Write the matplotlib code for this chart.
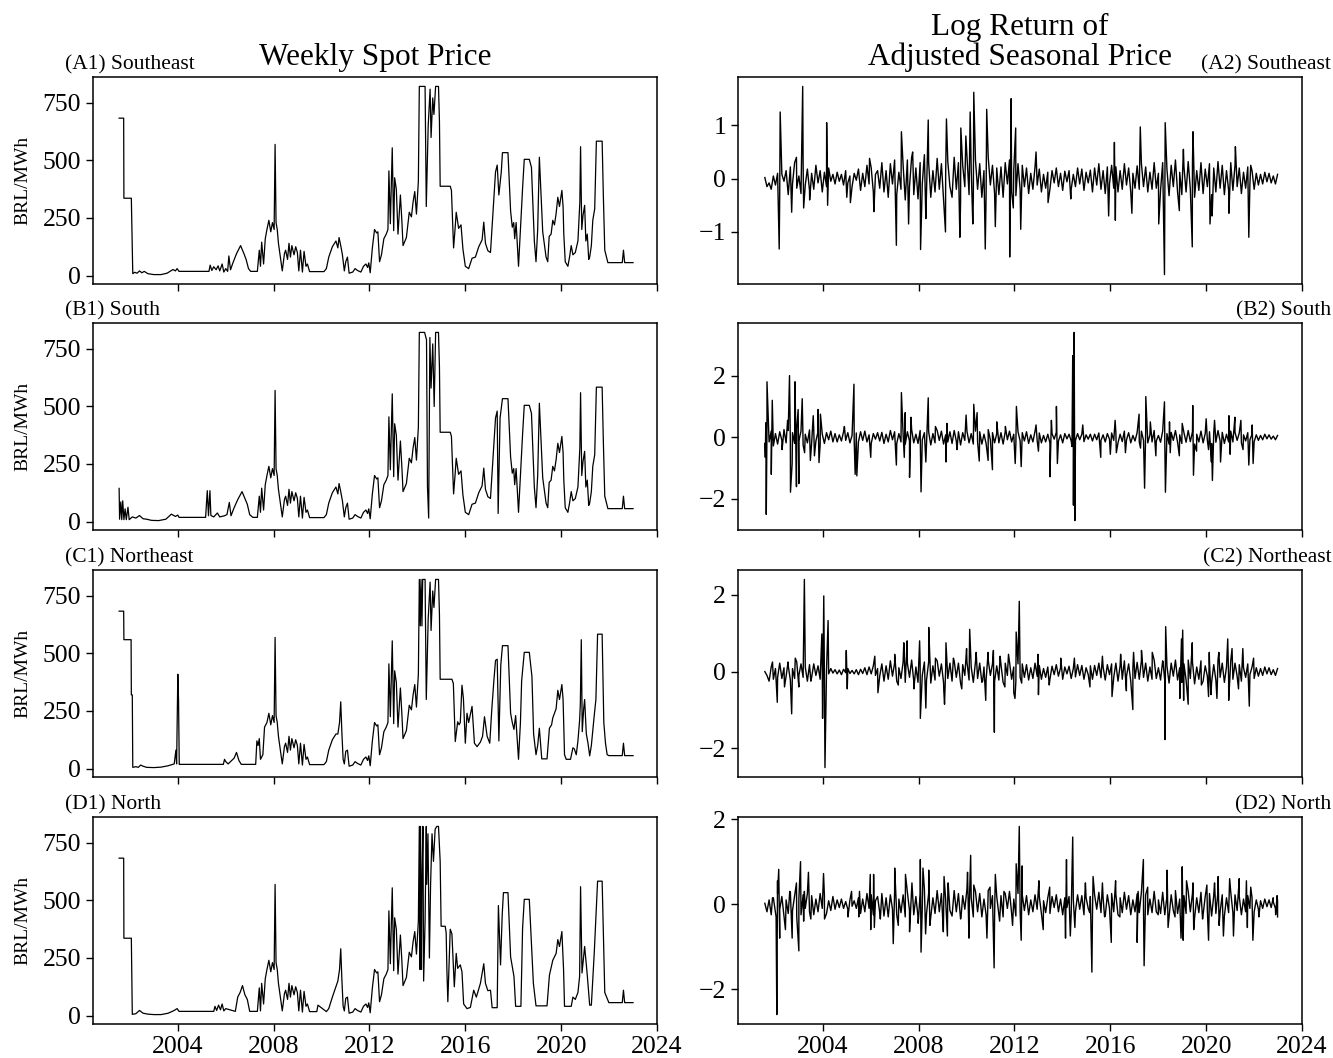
import numpy as np
import matplotlib.pyplot as plt

plt.rcParams['font.family'] = ['Liberation Serif', 'DejaVu Serif']

regions = ['Southeast', 'South', 'Northeast', 'North']
letters = ['A', 'B', 'C', 'D']
year_ticks = [2004, 2008, 2012, 2016, 2020, 2024]

# ---- weekly spot price, vertices (decimal year, BRL/MWh) ----
se_year = [2001.55, 2001.74, 2001.75, 2002.06, 2002.12, 2002.2, 2002.3, 2002.4, 2002.5, 2002.6, 2002.75, 2003.0, 2003.3, 2003.55, 2003.8, 2003.9, 2003.97, 2004.05,
           2005.3, 2005.35, 2005.42, 2005.5, 2005.6, 2005.68, 2005.75, 2005.85, 2005.92, 2006.0, 2006.08, 2006.13, 2006.2, 2006.3, 2006.45, 2006.62, 2006.7, 2006.76, 2006.85, 2006.95,
           2007.04, 2007.32, 2007.4, 2007.45, 2007.5, 2007.58, 2007.65, 2007.72, 2007.8, 2007.88, 2007.95, 2008.02, 2008.06, 2008.1, 2008.15, 2008.2, 2008.28, 2008.36, 2008.45, 2008.5,
           2008.58, 2008.64, 2008.7, 2008.76, 2008.85, 2008.92, 2008.99, 2009.05, 2009.12, 2009.2, 2009.27, 2009.35, 2009.41, 2009.5, 2010.1, 2010.2, 2010.3, 2010.45, 2010.6, 2010.68,
           2010.73, 2010.8, 2010.87, 2010.95, 2011.01, 2011.08, 2011.15, 2011.3, 2011.4, 2011.5, 2011.64, 2011.75, 2011.85, 2011.92, 2011.97, 2012.03,
           2012.12, 2012.21, 2012.3, 2012.35, 2012.42, 2012.5, 2012.6, 2012.7, 2012.77, 2012.81, 2012.87, 2012.95, 2013.01, 2013.05, 2013.12, 2013.19, 2013.29, 2013.35, 2013.4,
           2013.54, 2013.66, 2013.75, 2013.82, 2013.89, 2013.96, 2014.04, 2014.08, 2014.32, 2014.37, 2014.45, 2014.53, 2014.57, 2014.64, 2014.69, 2014.76, 2014.88, 2014.92, 2014.95,
           2015.37, 2015.42, 2015.51, 2015.57, 2015.62, 2015.72, 2015.82, 2015.9, 2016.0, 2016.14, 2016.28, 2016.42, 2016.56, 2016.7, 2016.77, 2016.84, 2016.94, 2017.05, 2017.16,
           2017.26, 2017.33, 2017.4, 2017.5, 2017.55, 2017.78, 2017.89, 2017.96, 2018.02, 2018.06, 2018.12, 2018.22, 2018.3, 2018.39, 2018.46, 2018.67, 2018.76, 2018.88, 2018.95,
           2019.02, 2019.09, 2019.23, 2019.3, 2019.37, 2019.44, 2019.5, 2019.58, 2019.65, 2019.72, 2019.79, 2019.86, 2019.93, 2020.03, 2020.08, 2020.11, 2020.17, 2020.28, 2020.35,
           2020.42, 2020.49, 2020.59, 2020.7, 2020.78, 2020.81, 2020.86, 2020.91, 2020.98, 2021.03, 2021.09, 2021.15, 2021.19, 2021.26, 2021.32, 2021.4, 2021.47, 2021.71, 2021.76,
           2021.82, 2021.89, 2021.95, 2022.55, 2022.6, 2022.65, 2023.0]
se_price = [684, 684, 336, 336, 8, 14, 10, 20, 12, 18, 8, 4, 4, 10, 26, 20, 30, 18,
            18, 45, 22, 38, 25, 42, 20, 50, 15, 30, 18, 85, 25, 55, 95, 130, 110, 95, 70, 30,
            18, 18, 110, 40, 145, 50, 160, 200, 240, 190, 230, 200, 570, 230, 200, 140, 80, 20, 95, 110,
            70, 140, 80, 130, 90, 125, 100, 20, 110, 15, 105, 40, 50, 17, 17, 30, 80, 125, 150, 120,
            165, 130, 90, 20, 60, 80, 10, 15, 30, 22, 15, 40, 50, 35, 55, 12,
            120, 200, 185, 190, 60, 90, 160, 180, 200, 455, 225, 555, 195, 425, 375, 180, 350, 240, 130,
            165, 275, 255, 320, 365, 267, 410, 822, 822, 300, 650, 810, 600, 772, 700, 822, 822, 670, 388,
            388, 370, 120, 200, 275, 205, 220, 115, 40, 30, 75, 80, 125, 155, 232, 140, 108, 100, 280,
            450, 480, 350, 450, 534, 534, 280, 210, 230, 160, 230, 40, 200, 380, 505, 505, 470, 150, 60,
            200, 514, 190, 135, 80, 60, 170, 180, 240, 220, 270, 340, 300, 370, 300, 180, 60, 40, 80,
            130, 90, 100, 150, 320, 560, 200, 260, 305, 150, 180, 70, 80, 130, 240, 290, 584, 584, 350,
            110, 80, 56, 56, 110, 56, 56]

s_year = [2001.55, 2001.57, 2001.62, 2001.66, 2001.7, 2001.75, 2001.8, 2001.85, 2001.92, 2001.97, 2002.1, 2002.25, 2002.4, 2002.55, 2002.7, 2002.9, 2003.2, 2003.5, 2003.73, 2003.9, 2004.0, 2004.05,
          2005.16, 2005.23, 2005.28, 2005.34, 2005.38, 2005.5, 2005.65, 2005.75, 2005.95, 2006.05, 2006.15, 2006.22, 2006.35, 2006.5, 2006.68, 2006.8, 2006.9, 2007.0, 2007.13, 2007.32,
          2007.4, 2007.45, 2007.5, 2007.58, 2007.65, 2007.72, 2007.8, 2007.88, 2007.95, 2008.02, 2008.06, 2008.1, 2008.15, 2008.2, 2008.28, 2008.36, 2008.45, 2008.5,
          2008.58, 2008.64, 2008.7, 2008.76, 2008.85, 2008.92, 2008.99, 2009.05, 2009.12, 2009.2, 2009.27, 2009.35, 2009.41, 2009.5, 2010.1, 2010.2, 2010.3, 2010.45, 2010.6, 2010.68,
          2010.73, 2010.8, 2010.87, 2010.95, 2011.01, 2011.08, 2011.15, 2011.3, 2011.4, 2011.5, 2011.64, 2011.75, 2011.85, 2011.92, 2011.97, 2012.03,
          2012.12, 2012.21, 2012.3, 2012.35, 2012.42, 2012.5, 2012.6, 2012.7, 2012.77, 2012.81, 2012.87, 2012.95, 2013.01, 2013.05, 2013.12, 2013.19, 2013.29, 2013.35, 2013.4,
          2013.54, 2013.66, 2013.75, 2013.82, 2013.89, 2013.96, 2014.04, 2014.08, 2014.3, 2014.38, 2014.42, 2014.47, 2014.52, 2014.57, 2014.64, 2014.7, 2014.76, 2014.88, 2014.92, 2014.95,
          2015.37, 2015.42, 2015.51, 2015.57, 2015.62, 2015.72, 2015.82, 2015.9, 2016.0, 2016.14, 2016.28, 2016.42, 2016.56, 2016.7, 2016.77, 2016.84, 2016.94, 2017.05, 2017.16,
          2017.26, 2017.33, 2017.37, 2017.45, 2017.55, 2017.78, 2017.89, 2017.96, 2018.02, 2018.06, 2018.12, 2018.22, 2018.3, 2018.39, 2018.46, 2018.67, 2018.76, 2018.88, 2018.95,
          2019.02, 2019.09, 2019.23, 2019.3, 2019.37, 2019.44, 2019.5, 2019.58, 2019.65, 2019.72, 2019.79, 2019.86, 2019.93, 2020.03, 2020.08, 2020.11, 2020.17, 2020.28, 2020.35,
          2020.42, 2020.49, 2020.59, 2020.7, 2020.78, 2020.81, 2020.86, 2020.91, 2020.98, 2021.03, 2021.09, 2021.15, 2021.19, 2021.26, 2021.32, 2021.4, 2021.47, 2021.71, 2021.76,
          2021.82, 2021.89, 2021.95, 2022.55, 2022.6, 2022.65, 2023.0]
s_price = [144, 10, 85, 8, 90, 8, 55, 8, 62, 8, 20, 15, 26, 12, 10, 5, 4, 10, 32, 22, 28, 18,
           18, 134, 25, 134, 26, 20, 37, 20, 25, 30, 83, 25, 60, 95, 130, 100, 75, 30, 18, 18,
           110, 40, 145, 50, 160, 200, 240, 190, 230, 200, 570, 230, 200, 140, 80, 20, 95, 110,
           70, 140, 80, 130, 90, 125, 100, 20, 110, 15, 105, 40, 50, 17, 17, 30, 80, 125, 150, 120,
           165, 130, 90, 20, 60, 80, 10, 15, 30, 22, 15, 40, 50, 35, 55, 12,
           120, 200, 185, 190, 60, 90, 160, 180, 200, 455, 225, 555, 195, 425, 375, 180, 350, 240, 130,
           165, 275, 255, 320, 365, 267, 410, 822, 822, 790, 150, 15, 800, 580, 772, 500, 822, 822, 670, 388,
           388, 370, 120, 200, 275, 205, 220, 115, 40, 30, 75, 80, 125, 155, 232, 140, 108, 100, 280,
           450, 480, 35, 450, 534, 534, 280, 210, 230, 160, 230, 40, 200, 380, 505, 505, 470, 150, 60,
           200, 514, 190, 135, 80, 60, 170, 180, 240, 220, 270, 340, 300, 370, 300, 180, 60, 40, 80,
           130, 90, 100, 150, 320, 560, 200, 260, 305, 150, 180, 70, 80, 130, 240, 290, 584, 584, 350,
           110, 80, 56, 56, 110, 56, 56]

ne_year = [2001.55, 2001.74, 2001.75, 2002.05, 2002.06, 2002.1, 2002.12, 2002.25, 2002.35, 2002.45, 2002.55, 2002.7, 2003.0, 2003.3, 2003.6, 2003.85, 2003.92, 2003.95, 2004.0, 2004.03, 2004.06,
           2005.9, 2005.95, 2006.0, 2006.1, 2006.35, 2006.45, 2006.55, 2006.65, 2007.25, 2007.3, 2007.35, 2007.4, 2007.45, 2007.55, 2007.62,
           2007.72, 2007.8, 2007.88, 2007.95, 2008.02, 2008.06, 2008.1, 2008.15, 2008.2, 2008.28, 2008.36, 2008.45, 2008.5,
           2008.58, 2008.64, 2008.7, 2008.76, 2008.85, 2008.92, 2008.99, 2009.05, 2009.12, 2009.2, 2009.27, 2009.35, 2009.41, 2009.5, 2010.1, 2010.2, 2010.3, 2010.45, 2010.6, 2010.68,
           2010.75, 2010.8, 2010.85, 2010.9, 2010.95, 2011.01, 2011.08, 2011.15, 2011.3, 2011.4, 2011.5, 2011.64, 2011.75, 2011.85, 2011.92, 2011.97, 2012.03,
           2012.12, 2012.21, 2012.3, 2012.35, 2012.42, 2012.5, 2012.6, 2012.7, 2012.77, 2012.81, 2012.87, 2012.95, 2013.01, 2013.05, 2013.12, 2013.19, 2013.29, 2013.35, 2013.4,
           2013.54, 2013.66, 2013.75, 2013.82, 2013.89, 2013.96, 2014.04, 2014.08, 2014.12, 2014.15, 2014.19, 2014.22, 2014.32, 2014.37, 2014.45, 2014.53, 2014.57, 2014.64, 2014.69,
           2014.76, 2014.88, 2014.92, 2014.95, 2015.44, 2015.5, 2015.58, 2015.68, 2015.74, 2015.79, 2015.86, 2015.92, 2016.0, 2016.07, 2016.14, 2016.28, 2016.38, 2016.49, 2016.63,
           2016.72, 2016.8, 2016.91, 2017.02, 2017.1, 2017.19, 2017.26, 2017.33, 2017.4, 2017.48, 2017.55, 2017.78, 2017.89, 2017.96, 2018.03, 2018.1, 2018.15, 2018.22, 2018.3,
           2018.35, 2018.46, 2018.67, 2018.78, 2018.85, 2018.95, 2019.02, 2019.09, 2019.19, 2019.41, 2019.51, 2019.6, 2019.65, 2019.79, 2019.86, 2019.93, 2020.03, 2020.08, 2020.14,
           2020.21, 2020.39, 2020.49, 2020.55, 2020.63, 2020.7, 2020.77, 2020.8, 2020.84, 2020.88, 2020.94, 2020.98, 2021.05, 2021.12, 2021.19, 2021.26, 2021.38, 2021.45, 2021.52,
           2021.71, 2021.78, 2021.85, 2021.92, 2021.99, 2022.55, 2022.6, 2022.65, 2023.0]
ne_price = [684, 684, 560, 560, 320, 320, 5, 8, 5, 15, 10, 5, 4, 6, 12, 20, 80, 20, 410, 300, 18,
            18, 40, 30, 20, 45, 70, 35, 18, 18, 120, 100, 130, 40, 60, 180,
            200, 240, 190, 230, 200, 570, 230, 200, 140, 80, 20, 95, 110,
            70, 140, 80, 130, 90, 125, 100, 20, 110, 15, 105, 40, 50, 17, 17, 30, 80, 125, 150, 150,
            200, 290, 150, 40, 20, 75, 80, 10, 15, 30, 22, 15, 40, 50, 35, 55, 12,
            120, 200, 185, 190, 60, 90, 160, 180, 200, 455, 225, 555, 195, 425, 375, 180, 350, 240, 130,
            165, 275, 255, 320, 365, 267, 410, 822, 620, 822, 620, 822, 822, 300, 650, 810, 600, 772, 700,
            822, 822, 670, 388, 388, 370, 117, 203, 190, 200, 362, 305, 110, 240, 200, 270, 110, 95, 115,
            140, 225, 140, 110, 250, 380, 470, 475, 120, 450, 534, 534, 240, 200, 170, 230, 150, 40, 200,
            380, 505, 505, 400, 150, 60, 100, 175, 42, 42, 175, 190, 220, 260, 340, 300, 365, 300, 60,
            40, 40, 90, 85, 60, 120, 210, 280, 560, 160, 260, 300, 150, 110, 55, 100, 230, 300, 584,
            584, 200, 110, 60, 56, 56, 110, 56, 56]

n_year = [2001.55, 2001.74, 2001.75, 2002.06, 2002.1, 2002.25, 2002.4, 2002.55, 2002.75, 2003.0, 2003.3, 2003.6, 2003.85, 2003.97, 2004.05,
          2005.5, 2005.55, 2005.62, 2005.7, 2005.78, 2005.85, 2005.92, 2006.0, 2006.4, 2006.5, 2006.6, 2006.7, 2006.8, 2006.9, 2007.0, 2007.32,
          2007.4, 2007.45, 2007.5, 2007.58, 2007.65, 2007.72, 2007.8, 2007.88, 2007.95, 2008.02, 2008.06, 2008.1, 2008.15, 2008.2, 2008.28, 2008.36, 2008.45, 2008.5,
          2008.58, 2008.64, 2008.7, 2008.76, 2008.85, 2008.92, 2008.99, 2009.05, 2009.12, 2009.2, 2009.27, 2009.35, 2009.41, 2009.5, 2009.8, 2009.85, 2010.2, 2010.3, 2010.45, 2010.6, 2010.68,
          2010.75, 2010.8, 2010.85, 2010.9, 2010.95, 2011.01, 2011.08, 2011.15, 2011.3, 2011.4, 2011.5, 2011.64, 2011.75, 2011.85, 2011.92, 2011.97, 2012.03,
          2012.12, 2012.21, 2012.3, 2012.35, 2012.42, 2012.5, 2012.6, 2012.7, 2012.77, 2012.81, 2012.87, 2012.95, 2013.01, 2013.05, 2013.12, 2013.19, 2013.29, 2013.35, 2013.4,
          2013.54, 2013.66, 2013.75, 2013.82, 2013.89, 2013.96, 2014.04, 2014.08, 2014.11, 2014.13, 2014.17, 2014.19, 2014.23, 2014.26, 2014.32, 2014.37, 2014.39, 2014.44, 2014.5,
          2014.55, 2014.61, 2014.67, 2014.74, 2014.81, 2014.88, 2014.95, 2014.99, 2015.16, 2015.2, 2015.23, 2015.27, 2015.37, 2015.44, 2015.54, 2015.62, 2015.68, 2015.79, 2015.86,
          2015.93, 2016.07, 2016.21, 2016.35, 2016.46, 2016.63, 2016.77, 2016.84, 2016.94, 2017.05, 2017.12, 2017.33, 2017.38, 2017.47, 2017.54, 2017.59, 2017.78, 2017.89, 2018.03,
          2018.1, 2018.32, 2018.39, 2018.46, 2018.67, 2018.84, 2018.95, 2019.41, 2019.51, 2019.65, 2019.79, 2019.86, 2019.93, 2020.03, 2020.1, 2020.14, 2020.42, 2020.49, 2020.59,
          2020.7, 2020.77, 2020.81, 2020.87, 2020.98, 2021.09, 2021.19, 2021.26, 2021.38, 2021.52, 2021.71, 2021.82, 2021.99, 2022.55, 2022.6, 2022.65, 2023.0]
n_price = [684, 684, 336, 336, 5, 8, 22, 10, 6, 4, 4, 10, 22, 30, 18,
           18, 40, 22, 45, 25, 50, 20, 30, 18, 80, 100, 130, 90, 70, 18, 18,
           120, 20, 140, 50, 160, 200, 240, 190, 230, 200, 570, 230, 200, 140, 80, 20, 95, 110,
           70, 140, 80, 130, 90, 125, 100, 20, 110, 15, 105, 40, 50, 17, 17, 45, 17, 30, 80, 125, 150,
           200, 290, 150, 40, 20, 75, 80, 10, 15, 30, 22, 15, 40, 50, 35, 55, 12,
           120, 200, 185, 190, 60, 90, 160, 180, 200, 455, 225, 555, 195, 425, 375, 180, 350, 240, 130,
           165, 275, 255, 320, 365, 267, 410, 822, 200, 822, 200, 570, 822, 150, 410, 822, 570, 790, 250,
           570, 790, 670, 810, 822, 822, 670, 388, 388, 360, 200, 60, 375, 355, 125, 270, 205, 220, 190,
           50, 30, 35, 110, 80, 140, 225, 140, 108, 110, 34, 34, 478, 220, 440, 534, 534, 255, 170,
           40, 40, 380, 505, 505, 140, 42, 42, 175, 240, 270, 330, 300, 365, 200, 40, 40, 80, 70,
           100, 170, 560, 185, 300, 175, 45, 45, 270, 584, 584, 100, 56, 56, 110, 56, 56]

# ---- log return of adjusted seasonal price ----
# background fluctuations, in hundredths, evenly spaced over the sample
se_ret_base = [2, -15, -8, -20, 5, -12, 10, -25, 8, -5, 15,
               -30, 22, -10, 30, -18, 5, -28, 25, -12, 18, -22,
               10, -20, 25, -8, 15, -25, 12, -15, 20, -5, 8,
               -10, 12, -5, 8, -12, 15, -8, 5, -15, 10, -3,
               18, -22, 10, -15, 25, -10, 20, -25, 8, 15, -18,
               30, -25, 15, -35, 28, -10, 35, -30, 12, -20, 25,
               -40, 35, -15, 40, -30, 20, -38, 30, -10, 45, -25,
               30, -35, 15, -25, 38, -20, 28, -40, 10, 32, -15,
               -35, 40, -20, 30, -45, 25, -15, 42, -30, 18, -38,
               35, -20, 28, -35, 15, -30, 40, -12, 25, -28, 20,
               -30, 22, -35, 30, -10, 35, -25, 15, -32, 28, -20,
               25, -15, 20, -28, 10, -20, 22, -12, 18, -25, 8,
               -18, 12, -20, 15, -8, 20, -15, 10, -22, 14, -6,
               15, -20, 8, -15, 20, -10, 18, -22, 12, -8, 16,
               -25, 20, -12, 28, -20, 15, -28, 22, -10, 25, -18,
               22, -25, 15, -20, 28, -12, 20, -25, 10, -18, 24,
               -20, 28, -15, 22, -25, 12, -20, 30, -18, 10, -22,
               30, -28, 18, -32, 25, -15, 35, -25, 12, -30, 22,
               -25, 32, -20, 28, -35, 15, -22, 30, -28, 18, -15,
               28, -30, 20, -25, 32, -18, 25, -30, 15, -22, 30,
               -22, 25, -15, 20, -28, 12, -18, 22, -10, 15, -20,
               10, -12, 8, -10, 12, -6, 10, -8, 5, -10, 8]
se_spike_year = [2002.18, 2002.22, 2002.7, 2002.9, 2003.16, 2003.2, 2003.45, 2004.16, 2004.2, 2005.0, 2005.15, 2005.95, 2006.13,
                 2007.07, 2007.28, 2007.58, 2007.75, 2008.08, 2008.3, 2008.4, 2009.12, 2009.16, 2009.72, 2009.76, 2009.97, 2010.15,
                 2010.26, 2010.3, 2010.78, 2010.84, 2011.2, 2011.8, 2011.86, 2011.95, 2012.05, 2012.26, 2012.9, 2013.4, 2014.35,
                 2015.93, 2016.17, 2016.21, 2016.9, 2017.25, 2018.02, 2018.26, 2018.29, 2018.88, 2019.05, 2019.42, 2019.45,
                 2020.16, 2020.25, 2020.95, 2021.22, 2021.78, 2021.86]
se_spike = [-1.32, 1.25, -0.63, 0.4, 1.73, -0.55, -0.4, 1.05, -0.5, -0.35, -0.45, 0.38, -0.62,
            -1.25, 0.88, -0.85, 0.5, -1.33, -0.75, 1.1, -1.0, 1.12, -1.1, 0.95, 0.8, 1.25,
            -0.85, 1.62, -1.32, 1.3, -0.9, -1.47, 1.5, -0.55, 0.95, -0.95, 0.5, -0.45, -0.38,
            -0.7, 0.68, -0.78, -0.65, 0.97, -0.85, -1.8, 1.05, -0.6, 0.55, -1.28, 0.88,
            -0.85, -0.7, -0.65, 0.6, -1.1, 0.25]

s_ret_base = [-20, 25, -15, 20, -28, 12, -22, 18, -10, 25, -18,
              22, -25, 15, -20, 28, -12, 20, -25, 10, -18, 24,
              -18, 22, -12, 18, -25, 10, -20, 15, -8, 20, -15,
              12, -15, 8, -12, 18, -10, 15, -18, 6, -10, 14,
              -15, 18, -10, 20, -15, 8, -20, 12, -6, 15, -12,
              16, -20, 10, -15, 22, -8, 18, -20, 12, -15, 10,
              -22, 18, -12, 25, -18, 10, -20, 22, -8, 15, -20,
              18, -25, 12, -18, 22, -10, 20, -22, 8, -15, 18,
              -20, 22, -12, 18, -25, 15, -10, 20, -18, 12, -22,
              20, -15, 18, -22, 10, -20, 25, -8, 15, -18, 12,
              -18, 15, -22, 18, -8, 20, -15, 10, -20, 18, -12,
              15, -12, 18, -20, 8, -15, 20, -10, 14, -18, 6,
              -15, 10, -18, 12, -6, 16, -12, 8, -18, 12, -5,
              10, -12, 6, -10, 12, -8, 10, -14, 8, -6, 10,
              -12, 10, -8, 14, -10, 8, -15, 12, -6, 14, -10,
              15, -18, 10, -14, 20, -8, 15, -18, 6, -12, 16,
              -15, 20, -10, 16, -18, 8, -15, 22, -12, 6, -16,
              20, -18, 12, -22, 16, -10, 22, -16, 8, -20, 15,
              -16, 22, -14, 18, -22, 10, -15, 20, -18, 12, -10,
              18, -20, 14, -16, 22, -12, 16, -20, 10, -15, 20,
              -15, 16, -10, 14, -18, 8, -12, 15, -8, 10, -14,
              8, -10, 6, -8, 10, -5, 8, -6, 4, -8, 6]
s_spike_year = [2001.6, 2001.62, 2001.64, 2001.67, 2001.85, 2001.89, 2002.3, 2002.53, 2002.61, 2002.65, 2002.72, 2002.84, 2002.9,
                2002.97, 2003.0, 2003.14, 2003.24, 2003.48, 2003.6, 2003.65, 2003.8, 2003.84, 2003.9, 2004.9, 2005.3, 2005.35,
                2005.42, 2006.0, 2007.07, 2007.28, 2007.4, 2007.44, 2007.62, 2007.68, 2008.1, 2008.3, 2008.4, 2008.7, 2009.14,
                2009.18, 2009.6, 2009.98, 2010.3, 2010.44, 2010.53, 2010.9, 2011.08, 2011.26, 2011.62, 2012.03, 2012.08, 2012.28,
                2012.9, 2013.0, 2013.48, 2013.54, 2013.75, 2013.79, 2014.4, 2014.43, 2014.46, 2014.49, 2014.52, 2014.85, 2015.6,
                2016.0, 2016.2, 2016.25, 2016.63, 2017.2, 2017.26, 2017.43, 2017.48, 2017.67, 2017.9, 2018.26, 2018.3, 2018.47,
                2018.5, 2018.88, 2019.0, 2019.44, 2019.47, 2019.6, 2020.0, 2020.1, 2020.22, 2020.26, 2020.35, 2020.6, 2020.95,
                2021.0, 2021.2, 2021.45, 2021.54, 2021.78, 2021.92, 2021.96]
s_spike = [-0.65, 0.47, -2.5, 1.8, -1.2, 1.2, -0.4, 0.55, 2.0, -1.78, -0.85, 1.8, -1.6,
           0.9, -1.5, 1.25, -0.5, -0.75, 0.7, -0.6, 0.9, -0.82, 0.75, 0.35, 1.72, -1.2,
           -1.25, -0.65, -0.9, 1.45, -0.65, 0.8, -1.3, 0.65, -1.77, -0.8, 1.28, 0.35, -0.8,
           0.45, -0.4, 0.72, 1.07, 0.8, -0.77, -0.75, -1.05, 0.5, 0.35, -0.85, 1.0, -0.95,
           0.4, -0.45, -1.28, 0.55, 1.0, -0.85, -0.3, 2.65, -2.2, 3.4, -2.7, 0.4, -0.65,
           -0.55, 0.55, -0.5, -0.5, 0.75, -0.35, -1.65, 1.32, 0.5, -0.6, 1.15, -1.78, 0.5,
           -0.5, -0.6, 0.45, 1.03, -1.23, -0.45, 0.6, -0.4, -0.8, -1.4, 0.55, -0.8, 0.7,
           -0.55, 0.65, 0.55, -0.4, -0.9, 0.4, -0.85]

ne_ret_base = [0, -10, -25, 12, -20, 8, -15, 22, -18, 10, -12,
               15, -22, 8, -18, 25, -10, 20, -15, 12, -25, 18,
               -15, 20, -10, 15, -20, 8, -12, 5, -6, 8, -4,
               5, -6, 4, -8, 6, -3, 8, -5, 3, -6, 5,
               -8, 6, -5, 10, -8, 12, -6, 15, -10, 8, -12,
               20, -25, 15, -20, 28, -12, 22, -25, 10, -18, 25,
               -28, 22, -15, 30, -25, 12, -28, 20, -10, 25, -22,
               25, -30, 15, -22, 28, -12, 20, -28, 8, -18, 22,
               -25, 28, -15, 22, -30, 18, -10, 25, -22, 12, -28,
               25, -18, 22, -28, 12, -22, 30, -10, 20, -25, 15,
               -22, 18, -28, 22, -10, 25, -20, 12, -25, 20, -15,
               20, -15, 18, -22, 10, -18, 22, -12, 16, -20, 8,
               -15, 12, -20, 14, -8, 18, -12, 10, -20, 12, -6,
               14, -18, 8, -14, 18, -10, 16, -20, 10, -8, 15,
               -20, 16, -10, 22, -16, 12, -22, 18, -8, 20, -15,
               22, -25, 15, -20, 28, -12, 20, -25, 10, -18, 24,
               -20, 28, -15, 22, -25, 12, -20, 30, -18, 10, -22,
               28, -25, 15, -30, 22, -12, 30, -22, 10, -28, 20,
               -22, 30, -18, 25, -32, 12, -20, 28, -25, 15, -12,
               25, -28, 18, -22, 30, -15, 22, -28, 12, -20, 28,
               -20, 22, -12, 18, -25, 10, -15, 20, -8, 12, -18,
               10, -12, 8, -10, 12, -6, 10, -8, 5, -10, 8]
ne_spike_year = [2001.9, 2002.1, 2002.4, 2002.55, 2002.7, 2002.85, 2003.0, 2003.23, 2003.5, 2003.96, 2003.99, 2004.04, 2004.09,
                 2004.22, 2004.98, 2005.02, 2006.17, 2006.3, 2007.0, 2007.15, 2007.38, 2007.52, 2007.8, 2008.04, 2008.07, 2008.3,
                 2008.42, 2008.7, 2009.05, 2009.08, 2009.14, 2009.45, 2009.8, 2010.0, 2010.13, 2010.4, 2010.67, 2010.8, 2010.9,
                 2011.12, 2011.16, 2011.4, 2011.6, 2011.75, 2011.97, 2012.02, 2012.07, 2012.2, 2012.3, 2012.98, 2013.0, 2013.45,
                 2013.93, 2014.5, 2015.15, 2015.67, 2016.07, 2016.43, 2016.67, 2016.94, 2016.97, 2017.3, 2017.75, 2018.2, 2018.28,
                 2018.31, 2018.9, 2018.97, 2019.02, 2019.06, 2019.25, 2019.42, 2019.8, 2020.1, 2020.13, 2020.2, 2020.45, 2020.53,
                 2020.9, 2020.94, 2021.08, 2021.35, 2021.53, 2021.8, 2021.98]
ne_spike = [0.25, -0.8, -0.4, 0.25, -1.1, 0.35, -0.4, 2.4, -0.25, 0.98, -1.22, 1.97, -2.5,
            1.33, 0.55, -0.45, 0.4, -0.55, 0.45, -0.35, 0.75, 0.8, -0.45, 0.8, -1.22, -0.95,
            1.15, 0.35, -0.5, -0.85, 0.75, 0.35, -0.45, 0.6, 1.1, 0.5, -0.25, -0.75, 0.5,
            0.55, -1.58, 0.4, -0.4, 0.45, -0.55, -0.7, 1.03, 1.83, -0.3, 0.45, -0.6, -0.35,
            0.35, 0.35, -0.4, 0.4, -0.65, 0.45, -0.5, -0.99, 0.5, 0.55, 0.5, 0.25, -1.77,
            1.17, -0.7, 0.85, 1.08, -0.75, -0.85, 0.75, -0.35, -0.65, 0.5, -0.6, -0.7, 0.5,
            0.85, -0.75, 0.6, -0.45, 0.6, -0.9, 0.35]

n_ret_base = [2, -18, 10, -25, 15, -20, 25, -12, 18, -28, 10,
              -22, 28, -15, 20, -30, 12, -25, 22, -10, 25, -18,
              20, -25, 12, -18, 25, -10, 20, -22, 8, -15, 18,
              -12, 10, -8, 12, -10, 6, -12, 10, -5, 8, -10,
              15, -22, 12, -18, 25, -10, 22, -25, 8, 18, -20,
              25, -28, 15, -30, 22, -12, 28, -25, 12, -20, 22,
              -30, 28, -15, 32, -25, 18, -30, 25, -10, 35, -22,
              25, -30, 15, -22, 32, -18, 25, -32, 10, 28, -15,
              -28, 32, -18, 25, -35, 20, -12, 35, -25, 15, -30,
              30, -18, 25, -30, 12, -25, 32, -10, 20, -25, 18,
              -25, 20, -30, 25, -10, 30, -22, 12, -28, 25, -18,
              22, -15, 20, -25, 10, -18, 22, -12, 18, -22, 8,
              -20, 15, -22, 18, -8, 22, -18, 12, -25, 15, -8,
              18, -22, 10, -18, 22, -12, 20, -25, 15, -10, 18,
              -25, 22, -12, 28, -20, 15, -28, 22, -10, 25, -18,
              22, -25, 15, -20, 28, -12, 20, -25, 10, -18, 24,
              -20, 28, -15, 22, -25, 12, -20, 30, -18, 10, -22,
              28, -25, 18, -30, 22, -15, 32, -22, 12, -28, 20,
              -22, 30, -18, 25, -32, 15, -20, 28, -25, 18, -15,
              25, -28, 20, -22, 30, -18, 22, -28, 15, -20, 28,
              -20, 22, -15, 18, -25, 12, -18, 20, -10, 15, -18,
              10, -12, 8, -10, 12, -6, 10, -8, 5, -10, 8]
n_spike_year = [2001.9, 2002.05, 2002.08, 2002.11, 2002.16, 2002.2, 2002.44, 2002.62, 2002.72, 2002.9, 2003.0, 2003.07, 2003.2,
                2003.23, 2003.4, 2003.5, 2004.03, 2004.07, 2005.05, 2005.2, 2005.5, 2005.53, 2005.98, 2006.0, 2006.12, 2006.15,
                2006.4, 2006.94, 2007.0, 2007.15, 2007.45, 2007.62, 2007.72, 2007.98, 2008.07, 2008.1, 2008.18, 2008.29, 2008.42,
                2008.47, 2009.03, 2009.06, 2009.2, 2009.23, 2009.77, 2010.04, 2010.1, 2010.17, 2010.3, 2010.85, 2010.98, 2011.15,
                2011.2, 2011.38, 2011.56, 2011.92, 2012.07, 2012.2, 2012.28, 2012.32, 2013.02, 2013.2, 2013.47, 2014.13, 2014.17,
                2014.33, 2014.43, 2014.52, 2014.96, 2015.14, 2015.23, 2015.28, 2015.67, 2015.76, 2016.04, 2016.22, 2016.4, 2017.12,
                2017.16, 2017.38, 2017.41, 2017.56, 2018.0, 2018.37, 2018.41, 2018.7, 2018.95, 2019.0, 2019.04, 2019.18, 2019.45,
                2019.48, 2019.85, 2020.03, 2020.1, 2020.35, 2020.5, 2020.54, 2020.72, 2020.98, 2021.14, 2021.38, 2021.68, 2021.72,
                2021.86, 2021.95, 2022.2, 2022.8, 2022.9, 2022.96, 2022.98]
n_spike = [0.15, -0.3, -2.6, 0.55, 0.82, -0.8, -0.6, 0.3, -0.8, 0.5, -1.1, 1.0, -0.4,
           0.3, 0.75, -0.35, 0.72, -0.35, -0.3, 0.3, -0.3, 0.3, 0.7, -0.6, 0.7, -0.55,
           -0.35, -0.93, 0.85, -0.5, 0.7, -0.65, 0.5, -0.45, 1.05, -1.13, 0.85, -0.7, 0.8,
           -0.5, -0.65, 0.65, -0.75, 0.5, -0.3, 0.75, -0.8, 1.15, 0.45, -0.8, 0.4, -1.5,
           0.7, -0.4, 0.3, -0.5, 0.95, 1.83, -0.85, 0.9, 0.55, -0.6, 0.4, -0.8, 1.05,
           -0.75, 1.58, -0.55, 0.5, -0.2, -1.6, 0.65, 0.5, -0.3, -0.9, 0.55, -0.3, -0.9,
           0.3, 1.05, -1.45, 0.4, -0.25, 0.8, -0.55, -0.3, -0.8, 0.88, -0.85, 0.55, 0.5,
           -0.6, -0.35, 0.45, -0.85, 0.5, 0.65, -0.5, -0.75, 0.6, -0.75, 0.6, 0.55, -0.55,
           0.4, -0.85, -0.3, 0.15, -0.25, 0.2, -0.3]

price_years = [se_year, s_year, ne_year, n_year]
prices = [se_price, s_price, ne_price, n_price]
ret_bases = [se_ret_base, s_ret_base, ne_ret_base, n_ret_base]
spike_years = [se_spike_year, s_spike_year, ne_spike_year, n_spike_year]
spikes = [se_spike, s_spike, ne_spike, n_spike]
ret_yticks = [[-1, 0, 1], [-2, 0, 2], [-2, 0, 2], [-2, 0, 2]]


def log_returns(base, sp_year, sp_val):
    t = np.linspace(2001.58, 2022.98, len(base))
    tt = np.concatenate([t, sp_year])
    vv = np.concatenate([np.array(base) / 100.0, sp_val])
    order = np.argsort(tt, kind='stable')
    return tt[order], vv[order]


fig = plt.figure(figsize=(13.33, 10.58), dpi=100)

W, H = 1333, 1058
tops = [77, 323, 570, 817]
ax_h = 207

for i in range(4):
    y0 = 1 - (tops[i] + ax_h) / H
    axl = fig.add_axes([93 / W, y0, 564 / W, ax_h / H])
    axr = fig.add_axes([738 / W, y0, 564 / W, ax_h / H])

    axl.plot(price_years[i], prices[i], color='black', lw=0.9)
    t, r = log_returns(ret_bases[i], spike_years[i], spikes[i])
    axr.plot(t, r, color='black', lw=1.0)

    axl.set_yticks([0, 250, 500, 750])
    axr.set_yticks(ret_yticks[i])
    axl.set_ylabel('BRL/MWh', fontsize=14, labelpad=8)

    for ax in (axl, axr):
        ax.set_xlim(2000.46, 2023.96)
        ax.set_xticks(year_ticks)
        ax.tick_params(axis='both', labelsize=18.5, length=5, width=1, direction='out')
        if i < 3:
            ax.set_xticklabels([])
        for sp in ax.spines.values():
            sp.set_linewidth(1.1)

    axl.text(-0.05, 1.01, f'({letters[i]}1) {regions[i]}', transform=axl.transAxes,
             ha='left', va='bottom', fontsize=15.5)
    axr.text(1.052, 1.01, f'({letters[i]}2) {regions[i]}', transform=axr.transAxes,
             ha='right', va='bottom', fontsize=15.5)

    if i == 0:
        axl.set_title('Weekly Spot Price', fontsize=22.5, pad=9)
        axr.set_title('Log Return of\nAdjusted Seasonal Price', fontsize=22.5, pad=9, linespacing=1.0)

fig.savefig('out.png', dpi=100)
